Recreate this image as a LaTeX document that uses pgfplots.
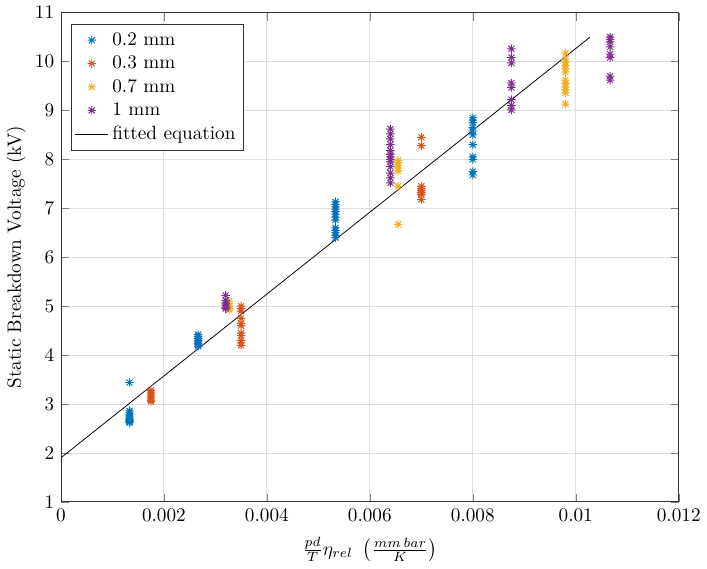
\documentclass[border=0pt]{standalone}
\usepackage{pgfplots}
\pgfplotsset{compat=1.18}
\definecolor{mblue}{rgb}{0,0.447,0.741}
\definecolor{mred}{rgb}{0.85,0.325,0.098}
\definecolor{myellow}{rgb}{0.929,0.694,0.125}
\definecolor{mpurple}{rgb}{0.494,0.184,0.556}
% MATLAB-like 8-arm asterisk
\pgfdeclareplotmark{mstar}{%
  \pgfpathmoveto{\pgfqpoint{-\pgfplotmarksize}{0pt}}\pgfpathlineto{\pgfqpoint{\pgfplotmarksize}{0pt}}%
  \pgfpathmoveto{\pgfqpoint{0pt}{-\pgfplotmarksize}}\pgfpathlineto{\pgfqpoint{0pt}{\pgfplotmarksize}}%
  \pgfpathmoveto{\pgfqpoint{-.707\pgfplotmarksize}{-.707\pgfplotmarksize}}\pgfpathlineto{\pgfqpoint{.707\pgfplotmarksize}{.707\pgfplotmarksize}}%
  \pgfpathmoveto{\pgfqpoint{-.707\pgfplotmarksize}{.707\pgfplotmarksize}}\pgfpathlineto{\pgfqpoint{.707\pgfplotmarksize}{-.707\pgfplotmarksize}}%
  \pgfusepathqstroke}
\begin{document}
\begin{tikzpicture}
\begin{axis}[
    scale only axis,
    width=322pt, height=255pt,
    xmin=0, xmax=0.012, ymin=1, ymax=11,
    xtick={0,0.002,0.004,0.006,0.008,0.01,0.012},
    xticklabels={0,0.002,0.004,0.006,0.008,0.01,0.012},
    scaled x ticks=false,
    ytick={1,2,...,11},
    tick align=inside,
    grid=major,
    major grid style={gray!25},
    axis line style={black!80},
    xlabel={$\frac{pd}{T}\eta_{rel}\ \left(\frac{mm\,bar}{K}\right)$},
    xlabel style={yshift=-1pt},
    ylabel={Static Breakdown Voltage (kV)},
    ylabel style={yshift=-2pt},
    legend style={at={(0.016,0.976)},anchor=north west,draw=black!80,
        font=\normalsize,row sep=0pt,inner sep=2pt},
    legend cell align=left,
    every axis plot/.append style={line width=0.5pt},
]
\addplot[only marks, mark=mstar, mark size=2.2pt, color=mblue] coordinates {
 (0.001333,3.44) (0.001333,2.86) (0.001333,2.82) (0.001333,2.78) (0.001333,2.74)
 (0.001333,2.71) (0.001333,2.68) (0.001333,2.66) (0.001333,2.64) (0.001333,2.62)
 (0.002667,4.42) (0.002667,4.38) (0.002667,4.34) (0.002667,4.30) (0.002667,4.27)
 (0.002667,4.24) (0.002667,4.21) (0.002667,4.18)
 (0.005333,7.13) (0.005333,7.08) (0.005333,7.03) (0.005333,6.98) (0.005333,6.93)
 (0.005333,6.88) (0.005333,6.82) (0.005333,6.76) (0.005333,6.60) (0.005333,6.55)
 (0.005333,6.50) (0.005333,6.45) (0.005333,6.40)
 (0.008,8.85) (0.008,8.80) (0.008,8.75) (0.008,8.65) (0.008,8.58) (0.008,8.50)
 (0.008,8.30) (0.008,8.05) (0.008,8.00) (0.008,7.75) (0.008,7.68)
};
\addlegendentry{0.2 mm}
\addplot[only marks, mark=mstar, mark size=2.2pt, color=mred] coordinates {
 (0.00175,3.28) (0.00175,3.24) (0.00175,3.20) (0.00175,3.16) (0.00175,3.12)
 (0.00175,3.08) (0.00175,3.05)
 (0.0035,5.00) (0.0035,4.95) (0.0035,4.90) (0.0035,4.75) (0.0035,4.65) (0.0035,4.60)
 (0.0035,4.45) (0.0035,4.40) (0.0035,4.30) (0.0035,4.25) (0.0035,4.20)
 (0.007,8.45) (0.007,8.28) (0.007,7.45) (0.007,7.40) (0.007,7.36) (0.007,7.32)
 (0.007,7.28) (0.007,7.18)
};
\addlegendentry{0.3 mm}
\addplot[only marks, mark=mstar, mark size=2.2pt, color=myellow] coordinates {
 (0.00327,5.10) (0.00327,5.05) (0.00327,5.00) (0.00327,4.95) (0.00327,4.92)
 (0.00655,7.98) (0.00655,7.93) (0.00655,7.88) (0.00655,7.82) (0.00655,7.76)
 (0.00655,7.45) (0.00655,6.67)
 (0.0098,10.17) (0.0098,10.05) (0.0098,9.98) (0.0098,9.92) (0.0098,9.85) (0.0098,9.78)
 (0.0098,9.62) (0.0098,9.55) (0.0098,9.48) (0.0098,9.42) (0.0098,9.36) (0.0098,9.13)
};
\addlegendentry{0.7 mm}
\addplot[only marks, mark=mstar, mark size=2.2pt, color=mpurple] coordinates {
 (0.0032,5.22) (0.0032,5.12) (0.0032,5.06) (0.0032,5.02) (0.0032,4.98) (0.0032,4.95)
 (0.0064,8.62) (0.0064,8.52) (0.0064,8.42) (0.0064,8.30) (0.0064,8.18) (0.0064,8.10)
 (0.0064,8.05) (0.0064,8.00) (0.0064,7.95) (0.0064,7.85) (0.0064,7.72) (0.0064,7.62)
 (0.0064,7.52)
 (0.00875,10.26) (0.00875,10.08) (0.00875,9.97) (0.00875,9.56) (0.00875,9.47)
 (0.00875,9.22) (0.00875,9.10) (0.00875,9.01)
 (0.010667,10.50) (0.010667,10.45) (0.010667,10.40) (0.010667,10.30)
 (0.010667,10.15) (0.010667,10.08) (0.010667,9.70) (0.010667,9.62)
};
\addlegendentry{1 mm}
\addplot[black, line width=0.4pt, no marks] coordinates {(0,1.9) (0.01028,10.5)};
\addlegendentry{fitted equation}
\end{axis}
\end{tikzpicture}
\end{document}
